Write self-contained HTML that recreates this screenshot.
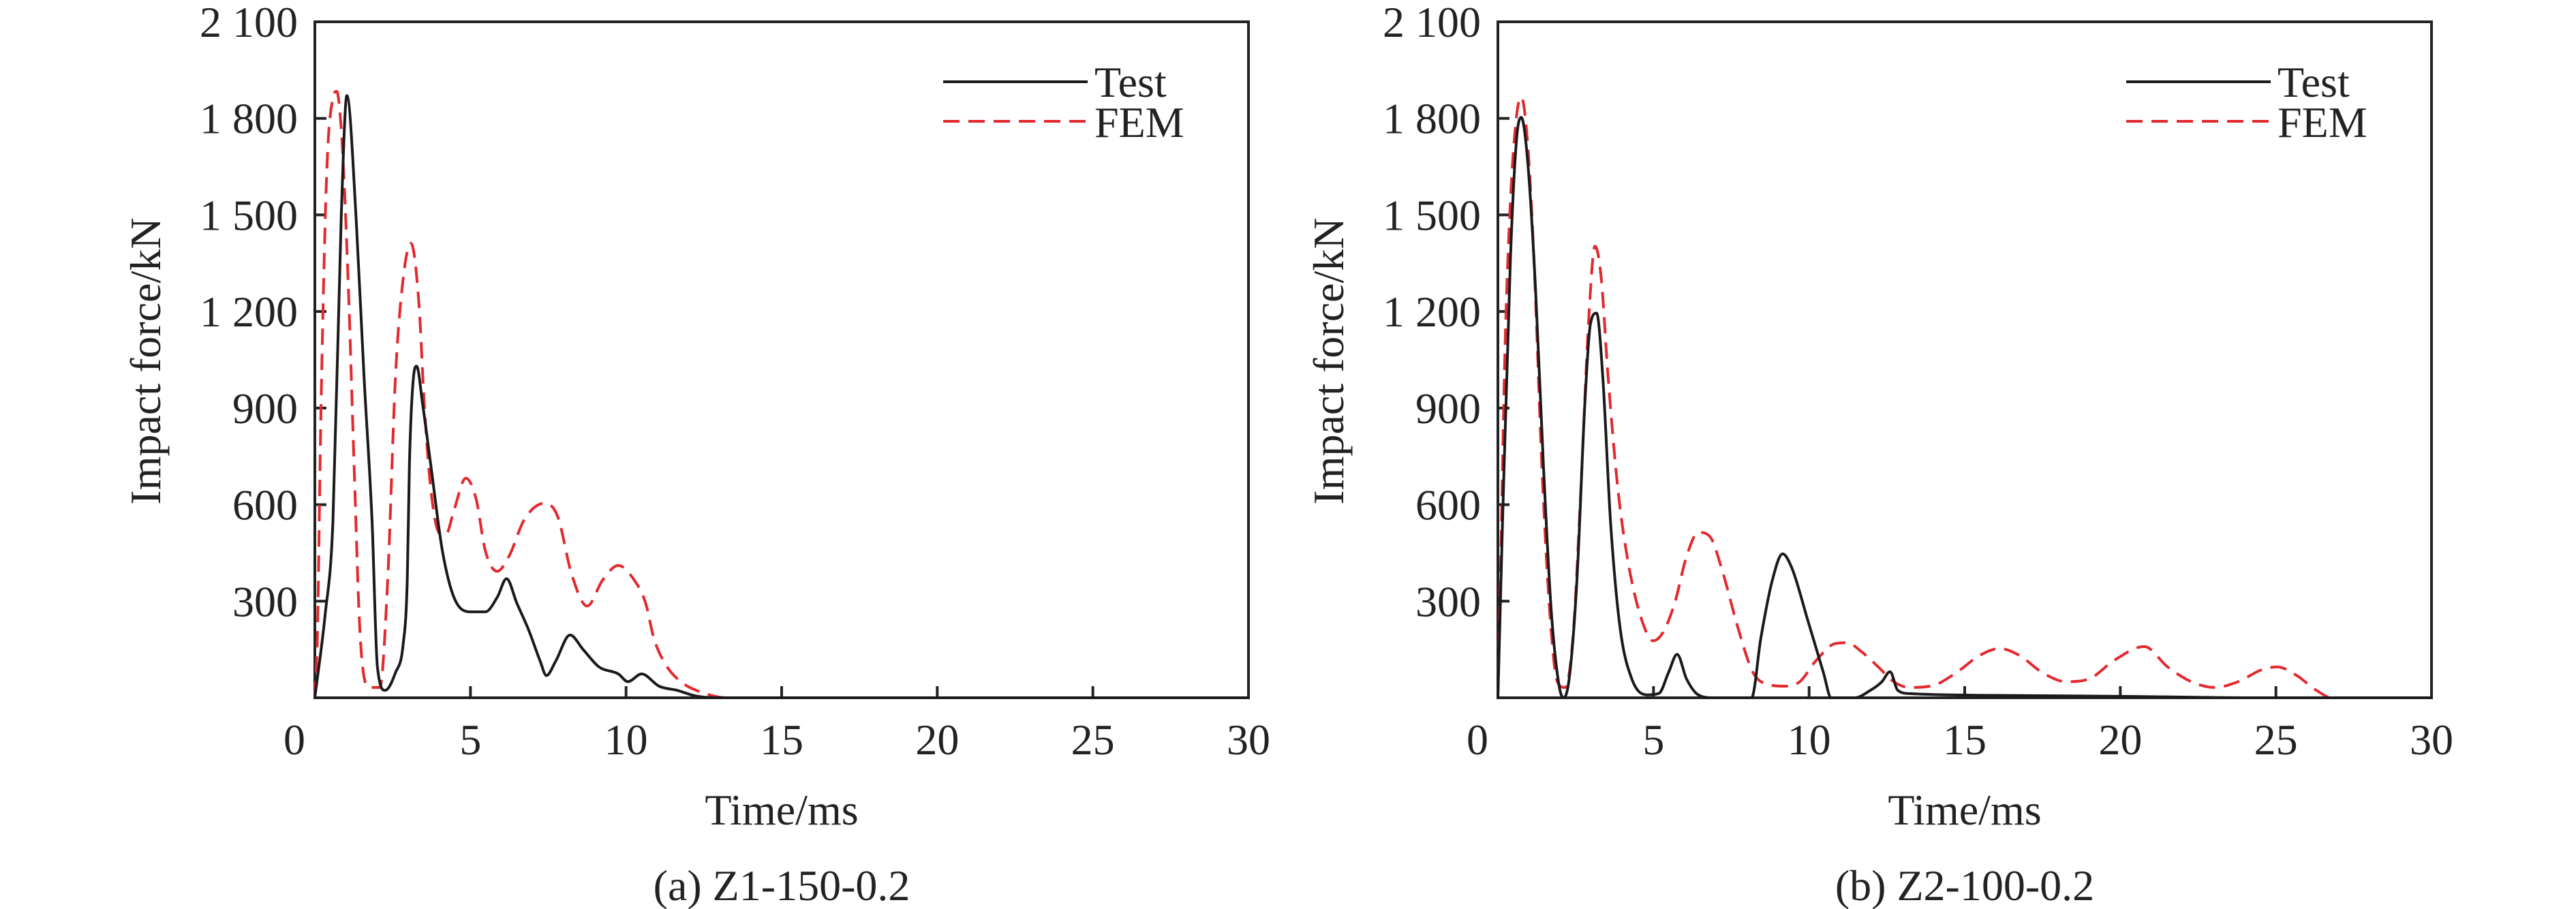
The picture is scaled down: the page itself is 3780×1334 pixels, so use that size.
<!DOCTYPE html>
<html><head><meta charset="utf-8"><style>
html,body{margin:0;padding:0;background:#fff;}
svg{display:block;}
text{font-family:"Liberation Serif","DejaVu Serif",serif;}
</style></head><body>
<svg id="chart" width="3780" height="1334" viewBox="0 0 3780 1334" xmlns="http://www.w3.org/2000/svg" font-family="Liberation Serif, serif"></svg>
<script>
const xTicks=[0,5,10,15,20,25,30];
const yTicks=[300,600,900,1200,1500,1800,2100];
const yTickLabels=["300","600","900","1 200","1 500","1 800","2 100"];
const panelCaptions=["(a) Z1-150-0.2","(b) Z2-100-0.2"];
const seriesNames=["Test","FEM"];
const aTestT=[0,0.33,0.58,0.85,1.03,1.33,1.58,1.84,2.01,2.26,2.59,2.84,2.97,3.04,3.17,3.27,3.47,3.72,4.1,4.47,4.98,5.48,5.86,6.16,6.49,6.86,7.24,7.44,7.74,8.2,8.62,9.13,9.75,10.06,10.5,11.06,11.64,12.27,13.0,30];
const aTestF=[0,258,546,1500,1871,1484,997,546,96,23,78,168,366,727,997,1030,907,727,456,312,267,267,312,370,294,213,114,69,114,195,150,96,74,50,74,36,23,5,0,0];
const aFemT=[0,0.08,0.2,0.38,0.58,0.7,0.88,1.08,1.26,1.46,1.76,2.09,2.34,2.59,2.84,3.09,3.34,3.52,3.72,4.02,4.22,4.47,4.85,5.18,5.48,5.86,6.23,6.74,7.37,7.8,8.25,8.75,9.25,9.75,10.26,10.63,10.89,11.26,11.76,12.52,13.27,30];
const aFemF=[0,186,907,1628,1863,1884,1718,1267,727,186,32,32,366,997,1304,1412,1231,907,654,510,510,582,682,618,456,393,438,555,604,564,384,285,366,411,366,294,186,105,50,14,0,0];
const bTestT=[0,0.15,0.4,0.6,0.75,0.96,1.21,1.46,1.71,1.96,2.11,2.29,2.54,2.79,2.97,3.17,3.37,3.62,3.92,4.3,4.8,5.18,5.48,5.76,6.06,6.44,6.94,8.15,8.45,8.82,9.15,9.45,9.96,10.46,10.71,11.46,11.97,12.34,12.6,12.85,13.22,16.7,20.5,24.3,30];
const bTestF=[0,546,1358,1736,1803,1664,1267,727,276,41,0,59,366,907,1159,1195,997,546,222,59,9,14,78,135,59,9,0,0,186,366,447,402,240,78,0,0,23,50,81,23,13,7,4,0,0];
const bFemT=[0,0.08,0.23,0.4,0.6,0.75,0.96,1.16,1.41,1.66,1.91,2.16,2.41,2.66,2.92,3.12,3.32,3.54,3.87,4.22,4.63,4.98,5.31,5.68,6.06,6.44,6.81,7.19,7.7,8.2,8.7,9.2,9.7,10.21,10.83,11.21,11.71,12.22,12.72,13.22,13.98,14.73,15.49,16.12,16.75,17.5,18.26,19.01,19.77,20.77,21.52,22.28,23.03,23.79,24.54,25.04,25.67,26.3,26.8,30];
const bFemF=[0,366,1087,1538,1808,1866,1718,1358,727,276,50,32,186,636,1177,1403,1304,997,636,402,240,177,204,294,438,514,501,402,222,78,41,36,50,114,168,171,141,96,50,32,38,78,132,153,132,78,50,59,114,159,96,50,32,50,87,96,69,23,0,0];

const NS="http://www.w3.org/2000/svg";
const svg=document.getElementById('chart');
function mk(tag,attrs,parent){const e=document.createElementNS(NS,tag);for(const k in attrs)e.setAttribute(k,attrs[k]);(parent||svg).appendChild(e);return e;}
function monoPath(xs,ys){
  const n=xs.length,d=[],m=new Array(n).fill(0);
  for(let i=0;i<n-1;i++)d.push((ys[i+1]-ys[i])/(xs[i+1]-xs[i]));
  m[0]=d[0];m[n-1]=d[n-2];
  for(let i=1;i<n-1;i++){m[i]=(d[i-1]*d[i]<=0)?0:(d[i-1]+d[i])/2;}
  for(let i=0;i<n-1;i++){if(d[i]===0){m[i]=0;m[i+1]=0;continue;}const a=m[i]/d[i],b=m[i+1]/d[i],s=a*a+b*b;if(s>9){const t=3/Math.sqrt(s);m[i]=t*a*d[i];m[i+1]=t*b*d[i];}}
  let p='M'+xs[0].toFixed(1)+','+ys[0].toFixed(1);
  for(let i=0;i<n-1;i++){const h=(xs[i+1]-xs[i])/3;p+=' C'+(xs[i]+h).toFixed(1)+','+(ys[i]+m[i]*h).toFixed(1)+' '+(xs[i+1]-h).toFixed(1)+','+(ys[i+1]-m[i+1]*h).toFixed(1)+' '+xs[i+1].toFixed(1)+','+ys[i+1].toFixed(1);}
  return p;
}
const X0=462,X1=1832,Y0=1024,Y1=32;
const FF='Liberation Serif, serif';
function panel(off,caption,testT,testF,femT,femF,idx){
  const g=mk('g',{});
  
  
  const sx=t=>off+X0+(t/30)*(X1-X0);
  const sy=v=>Y0-(v/2100)*(Y0-Y1);
  xTicks.forEach(t=>{
    const l=mk('line',{x1:sx(t),x2:sx(t),y1:Y0,y2:Y0-17,stroke:'#222','stroke-width':4},g);
    
    
    const tx=mk('text',{x:sx(t)-(t===0?30:0),y:1107,'font-size':64,'font-family':FF,'text-anchor':'middle',fill:'#222'},g);
    tx.textContent=t;
    
    
  });
  yTicks.forEach((v,i)=>{
    const l=mk('line',{x1:off+X0,x2:off+X0+17,y1:sy(v),y2:sy(v),stroke:'#222','stroke-width':4},g);
    
    
    const tx=mk('text',{x:off+437,y:sy(v)+22,'font-size':64,'font-family':FF,'text-anchor':'end',fill:'#222'},g);
    tx.textContent=yTickLabels[i];
    
    
  });
  const fr=mk('rect',{x:off+X0,y:Y1,width:X1-X0,height:Y0-Y1,fill:'none',stroke:'#222','stroke-width':4},g);
  
  
  const fem=mk('path',{d:monoPath(femT.map(sx),femF.map(sy)),fill:'none',stroke:'#e3292e','stroke-width':4,'stroke-dasharray':'24 13'},g);
  
  
  const test=mk('path',{d:monoPath(testT.map(sx),testF.map(sy)),fill:'none',stroke:'#1a1a1a','stroke-width':4},g);
  
  
  const lg=mk('g',{},g);
  
  
  const l1=mk('line',{x1:off+1384,x2:off+1596,y1:120,y2:120,stroke:'#1a1a1a','stroke-width':4},lg);
  
  
  const t1=mk('text',{x:off+1606,y:142,'font-size':64,'font-family':FF,fill:'#222'},lg);
  t1.textContent=seriesNames[0];
  
  
  const l2=mk('line',{x1:off+1384,x2:off+1596,y1:178,y2:178,stroke:'#e3292e','stroke-width':4,'stroke-dasharray':'24 13'},lg);
  
  
  const t2=mk('text',{x:off+1606,y:201,'font-size':64,'font-family':FF,fill:'#222'},lg);
  t2.textContent=seriesNames[1];
  
  
  const yt=mk('text',{x:0,y:0,'font-size':64,'font-family':FF,'text-anchor':'middle',fill:'#222',transform:'translate('+(off+235)+',530) rotate(-90)'},g);
  yt.textContent='Impact force/kN';
  
  
  const xt=mk('text',{x:off+1147,y:1210,'font-size':64,'font-family':FF,'text-anchor':'middle',fill:'#222'},g);
  xt.textContent='Time/ms';
  
  
  const cp=mk('text',{x:off+1147,y:1321,'font-size':64,'font-family':FF,'text-anchor':'middle',fill:'#222'},g);
  cp.textContent=caption;
  
  
}
panel(0,panelCaptions[0],aTestT,aTestF,aFemT,aFemF,0);
panel(1736,panelCaptions[1],bTestT,bTestF,bFemT,bFemF,1);
</script>
</body></html>
